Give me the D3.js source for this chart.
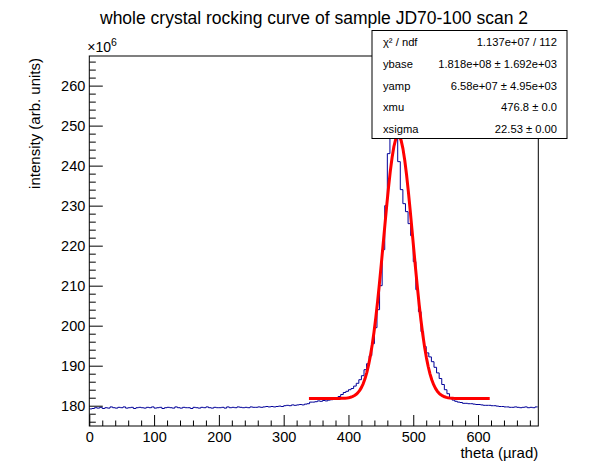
<!DOCTYPE html>
<html><head><meta charset="utf-8">
<script src="https://cdn.jsdelivr.net/npm/d3@7"></script>
<style>
body{margin:0;background:#fff}
svg{display:block}
text{font-family:"Liberation Sans",Arial,Helvetica,sans-serif;fill:#000}
</style>
</head><body>
<svg id="chart" width="598" height="474"></svg>
<script>
// ---- data (intensity in units of 10^6) ----
const titleText = "whole crystal rocking curve of sample JD70-100 scan 2";
const xTitle = "theta (\u00b5rad)";
const yTitle = "intensity (arb. units)";
const binLow = 0;        // first bin lower edge (µrad)
const binWidth = 4;      // µrad
const counts = [
179.2,179.3,179.5,179.4,179.6,179.3,179.5,179.4,179.7,179.5,179.4,179.6,179.5,179.7,179.4,179.5,179.6,179.3,179.5,179.6,
179.5,179.4,179.6,179.5,179.7,179.4,179.5,179.6,179.3,179.5,179.6,179.5,179.4,179.7,179.5,179.4,179.6,179.5,179.5,179.3,
179.6,179.5,179.4,179.6,179.5,179.7,179.5,179.4,179.6,179.5,179.5,179.6,179.4,179.7,179.5,179.6,179.5,179.7,179.6,179.5,
179.6,179.5,179.7,179.6,179.6,179.7,179.6,179.7,179.8,179.7,179.8,179.7,179.8,179.9,179.8,
180.0,180.1,180.0,180.2,180.1,180.2,180.3,180.2,180.4,180.5,180.9,180.9,181.0,181.2,181.1,181.3,181.2,181.4,181.5,181.7,
182.0,182.3,182.8,183.3,183.6,184.0,184.3,184.9,185.6,186.5,187.5,189.0,190.5,192.5,195.5,199.5,204.0,210.0,219.0,230.0,
243.0,256.0,262.0,255.0,241.0,234.0,230.5,228.5,225.5,222.5,216.0,209.0,203.5,198.5,194.8,193.2,192.2,191.0,189.6,188.2,
186.8,185.3,184.0,183.0,182.0,181.4,181.1,180.9,180.8,180.6,180.6,180.5,180.5,180.4,180.3,180.3,180.2,180.1,180.1,180.1,
180.0,180.0,179.9,179.8,179.8,179.7,179.7,179.6,179.6,179.7,179.6,179.5,179.6,179.7,179.5,179.6,179.5,179.7
];
// fit parameters (gaus + constant) and fit range
const fitBase = 181.8, fitAmp = 65.8, fitMu = 476.8, fitSigma = 22.53;
const fitRange = [339, 618];
// axis ranges and ticks
const xDomain = [0, 693];
const yDomain = [174.93, 267.4];
const xMajor = [0,100,200,300,400,500,600];
const yMajor = [180,190,200,210,220,230,240,250,260];
// stats box
const statLabels = ["\u03c7\u00b2 / ndf","ybase","yamp","xmu","xsigma"];
const statValues = ["1.137e+07 / 112","1.818e+08 \u00b1 1.692e+03","6.58e+07 \u00b1 4.95e+03","476.8 \u00b1 0.0","22.53 \u00b1 0.00"];

// ---- drawing ----
const svg = d3.select("#chart");
const L = 89.3, R = 538.3, T = 56, B = 426;
const x = d3.scaleLinear().domain(xDomain).range([L, R]);
const y = d3.scaleLinear().domain(yDomain).range([B, T]);

// title
svg.append("text").attr("x", 314).attr("y", 24).attr("text-anchor","middle")
  .style("font-size","17.5px").text(titleText);

// histogram (step outline)
const pts = counts.map((c,i)=>[binLow + i*binWidth, c]);
pts.push([binLow + counts.length*binWidth, counts[counts.length-1]]);
svg.append("clipPath").attr("id","plotclip").append("rect")
  .attr("x",L).attr("y",T).attr("width",R-L).attr("height",B-T);
svg.append("path").attr("clip-path","url(#plotclip)")
  .attr("d", d3.line().x(d=>x(d[0])).y(d=>y(d[1])).curve(d3.curveStepAfter)(pts))
  .attr("fill","none").attr("stroke","#000099").attr("stroke-width",1);

// fit curve
const nFit = 100;
const fitPts = d3.range(nFit+1).map(k=>{
  const t = fitRange[0] + (fitRange[1]-fitRange[0])*k/nFit;
  return [t, fitBase + fitAmp*Math.exp(-0.5*Math.pow((t-fitMu)/fitSigma,2))];
});
svg.append("path").attr("clip-path","url(#plotclip)")
  .attr("d", d3.line().x(d=>x(d[0])).y(d=>y(d[1]))(fitPts))
  .attr("fill","none").attr("stroke","#ff0000").attr("stroke-width",3)
  .attr("stroke-linejoin","round");

// axes
const xAxis = d3.axisBottom(x).tickValues(xMajor).tickSizeInner(-11).tickSizeOuter(0).tickPadding(6).tickFormat(d3.format("d"));
const xMinor = d3.axisBottom(x).tickValues(d3.range(0, 693, 20).filter(v=>v%100!==0)).tickSizeInner(-5.5).tickSizeOuter(0).tickFormat("");
const gx = svg.append("g").attr("transform",`translate(0,${B})`).call(xAxis);
svg.append("g").attr("transform",`translate(0,${B})`).call(xMinor);
gx.selectAll("text").style("font-size","14.5px");

const yAxis = d3.axisLeft(y).tickValues(yMajor).tickSizeInner(-13.5).tickSizeOuter(0).tickPadding(4).tickFormat(d3.format("d"));
const yMinor = d3.axisLeft(y).tickValues(d3.range(176, 267, 2).filter(v=>v%10!==0)).tickSizeInner(-6.5).tickSizeOuter(0).tickFormat("");
const gy = svg.append("g").attr("transform",`translate(${L},0)`).call(yAxis);
svg.append("g").attr("transform",`translate(${L},0)`).call(yMinor);
gy.selectAll("text").style("font-size","14.5px").attr("x", -4);
svg.selectAll(".domain").remove();
svg.selectAll(".tick line").attr("stroke","#000");

// frame
svg.append("rect").attr("x",L).attr("y",T).attr("width",R-L).attr("height",B-T)
  .attr("fill","none").attr("stroke","#000").attr("stroke-width",1);

// exponent label
const ex = svg.append("text").attr("x", L-2).attr("y", 52).style("font-size","14px");
ex.append("tspan").text("\u00d710");
ex.append("tspan").attr("dy",-6).style("font-size","10.5px").text("6");

// axis titles
svg.append("text").attr("x", R).attr("y", 458).attr("text-anchor","end")
  .style("font-size","15px").text(xTitle);
svg.append("text").attr("transform",`translate(40,${T+2}) rotate(-90)`).attr("text-anchor","end")
  .style("font-size","15px").text(yTitle);

// stats box
const bx0 = 372, by0 = 30.5, bx1 = 567, by1 = 138.5;
svg.append("rect").attr("x",bx0).attr("y",by0).attr("width",bx1-bx0).attr("height",by1-by0)
  .attr("fill","#fff").attr("stroke","#000").attr("stroke-width",1);
const rowH = (by1-by0)/statLabels.length;
statLabels.forEach((lab,i)=>{
  const yy = by0 + rowH*(i+0.5) + 5;
  svg.append("text").attr("x", bx0+11).attr("y", yy).style("font-size","11.2px").text(lab);
  svg.append("text").attr("x", bx1-10).attr("y", yy).attr("text-anchor","end").style("font-size","11.2px").text(statValues[i]);
});
</script>
</body></html>
